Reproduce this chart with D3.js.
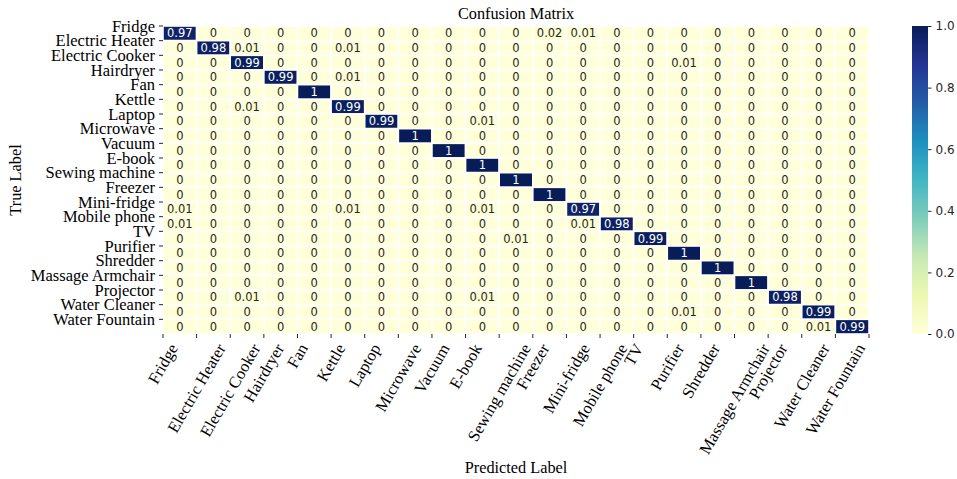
<!DOCTYPE html>
<html>
<head>
<meta charset="utf-8">
<script src="https://cdn.jsdelivr.net/npm/d3@7"></script>
<style>
  html, body { margin: 0; padding: 0; background: #fff; }
  svg { display: block; }
</style>
</head>
<body>
<svg id="chart" width="957" height="479"></svg>
<script>
// Appliance classes (rows = true label, columns = predicted label)
const classes = [
  "Fridge", "Electric Heater", "Electric Cooker", "Hairdryer", "Fan", "Kettle",
  "Laptop", "Microwave", "Vacuum", "E-book", "Sewing machine", "Freezer",
  "Mini-fridge", "Mobile phone", "TV", "Purifier", "Shredder",
  "Massage Armchair", "Projector", "Water Cleaner", "Water Fountain"
];

// Normalised confusion matrix, one row per true class
const matrix = [
  [0.97,0,0,0,0,0,0,0,0,0,0,0.02,0.01,0,0,0,0,0,0,0,0],
  [0,0.98,0.01,0,0,0.01,0,0,0,0,0,0,0,0,0,0,0,0,0,0,0],
  [0,0,0.99,0,0,0,0,0,0,0,0,0,0,0,0,0.01,0,0,0,0,0],
  [0,0,0,0.99,0,0.01,0,0,0,0,0,0,0,0,0,0,0,0,0,0,0],
  [0,0,0,0,1,0,0,0,0,0,0,0,0,0,0,0,0,0,0,0,0],
  [0,0,0.01,0,0,0.99,0,0,0,0,0,0,0,0,0,0,0,0,0,0,0],
  [0,0,0,0,0,0,0.99,0,0,0.01,0,0,0,0,0,0,0,0,0,0,0],
  [0,0,0,0,0,0,0,1,0,0,0,0,0,0,0,0,0,0,0,0,0],
  [0,0,0,0,0,0,0,0,1,0,0,0,0,0,0,0,0,0,0,0,0],
  [0,0,0,0,0,0,0,0,0,1,0,0,0,0,0,0,0,0,0,0,0],
  [0,0,0,0,0,0,0,0,0,0,1,0,0,0,0,0,0,0,0,0,0],
  [0,0,0,0,0,0,0,0,0,0,0,1,0,0,0,0,0,0,0,0,0],
  [0.01,0,0,0,0,0.01,0,0,0,0.01,0,0,0.97,0,0,0,0,0,0,0,0],
  [0.01,0,0,0,0,0,0,0,0,0,0,0,0.01,0.98,0,0,0,0,0,0,0],
  [0,0,0,0,0,0,0,0,0,0,0.01,0,0,0,0.99,0,0,0,0,0,0],
  [0,0,0,0,0,0,0,0,0,0,0,0,0,0,0,1,0,0,0,0,0],
  [0,0,0,0,0,0,0,0,0,0,0,0,0,0,0,0,1,0,0,0,0],
  [0,0,0,0,0,0,0,0,0,0,0,0,0,0,0,0,0,1,0,0,0],
  [0,0,0.01,0,0,0,0,0,0,0.01,0,0,0,0,0,0,0,0,0.98,0,0],
  [0,0,0,0,0,0,0,0,0,0,0,0,0,0,0,0.01,0,0,0,0.99,0],
  [0,0,0,0,0,0,0,0,0,0,0,0,0,0,0,0,0,0,0,0.01,0.99]
];

const colorbarTicks = [0, 0.2, 0.4, 0.6, 0.8, 1.0];

// YlGnBu colour stops
const ylgnbu = ["#ffffd9","#edf8b1","#c7e9b4","#7fcdbb","#41b6c4","#1d91c0","#225ea8","#253494","#081d58"];

const svg = d3.select("#chart");
const plot = { left: 163, top: 26, right: 869, bottom: 334 };
const serif = "'Liberation Serif', 'Times New Roman', serif";
const sans = "'DejaVu Sans', sans-serif";
const inkColor = "#262626";
const tickFont = 16.5;
const titleFont = 16.3;

const n = classes.length;
const x = d3.scaleLinear().domain([0, n]).range([plot.left, plot.right]);
const y = d3.scaleLinear().domain([0, n]).range([plot.top, plot.bottom]);
const color = d3.scaleLinear()
  .domain(d3.range(ylgnbu.length).map(i => i / (ylgnbu.length - 1)))
  .range(ylgnbu)
  .interpolate(d3.interpolateRgb)
  .clamp(true);

// Cells
const cells = [];
matrix.forEach((row, i) => row.forEach((v, j) => cells.push({ i, j, v })));

const g = svg.append("g");
g.selectAll("rect.cell")
  .data(cells)
  .join("rect")
  .attr("class", "cell")
  .attr("x", d => x(d.j))
  .attr("y", d => y(d.i))
  .attr("width", x(1) - x(0))
  .attr("height", y(1) - y(0))
  .attr("fill", d => color(d.v))
  .attr("stroke", "#fff")
  .attr("stroke-width", 1.6);

// Cell annotations
g.selectAll("text.val")
  .data(cells)
  .join("text")
  .attr("class", "val")
  .attr("x", d => x(d.j + 0.5))
  .attr("y", d => y(d.i + 0.5))
  .attr("text-anchor", "middle")
  .attr("dominant-baseline", "central")
  .attr("font-family", sans)
  .attr("font-size", 11.5)
  .attr("fill", d => d.v > 0.5 ? "#ffffff" : inkColor)
  .text(d => d3.format("~g")(d.v));

// Y axis: ticks and labels at row boundaries
const yAxis = svg.append("g");
yAxis.selectAll("line")
  .data(d3.range(n))
  .join("line")
  .attr("x1", plot.left - 4).attr("x2", plot.left)
  .attr("y1", d => y(d)).attr("y2", d => y(d))
  .attr("stroke", inkColor).attr("stroke-width", 1);
yAxis.selectAll("text")
  .data(classes)
  .join("text")
  .attr("x", plot.left - 8)
  .attr("y", (d, i) => y(i))
  .attr("text-anchor", "end")
  .attr("dominant-baseline", "central")
  .attr("font-family", serif)
  .attr("font-size", tickFont)
  .attr("fill", "#000")
  .text(d => d);

// X axis: ticks at column boundaries, rotated labels
const xAxis = svg.append("g");
xAxis.selectAll("line")
  .data(d3.range(n + 1))
  .join("line")
  .attr("x1", d => x(d)).attr("x2", d => x(d))
  .attr("y1", plot.bottom).attr("y2", plot.bottom + 4)
  .attr("stroke", inkColor).attr("stroke-width", 1);

const labelTop = plot.bottom + 7;
const cos60 = Math.cos(Math.PI / 3), sin60 = Math.sin(Math.PI / 3);
xAxis.selectAll("text")
  .data(classes)
  .join("text")
  .attr("text-anchor", "middle")
  .attr("dominant-baseline", "central")
  .attr("font-family", serif)
  .attr("font-size", tickFont)
  .attr("fill", "#000")
  .text(d => d)
  .each(function (d, i) {
    const w = this.getComputedTextLength();
    const h = tickFont * 1.0;
    const boxH = w * sin60 + h * cos60;
    d3.select(this).attr("transform",
      `translate(${x(i)},${labelTop + boxH / 2}) rotate(-60)`);
  });

// Titles
svg.append("text")
  .attr("x", (plot.left + plot.right) / 2).attr("y", 19)
  .attr("text-anchor", "middle")
  .attr("font-family", serif).attr("font-size", titleFont)
  .text("Confusion Matrix");
svg.append("text")
  .attr("x", (plot.left + plot.right) / 2).attr("y", 473)
  .attr("text-anchor", "middle")
  .attr("font-family", serif).attr("font-size", titleFont)
  .text("Predicted Label");
svg.append("text")
  .attr("transform", `translate(21,${(plot.top + plot.bottom) / 2}) rotate(-90)`)
  .attr("text-anchor", "middle")
  .attr("font-family", serif).attr("font-size", titleFont)
  .text("True Label");

// Colorbar
const cb = { x: 912, w: 16, top: plot.top, bottom: plot.bottom };
const defs = svg.append("defs");
const grad = defs.append("linearGradient")
  .attr("id", "cbGrad").attr("x1", 0).attr("y1", 1).attr("x2", 0).attr("y2", 0);
ylgnbu.forEach((c, i) => grad.append("stop")
  .attr("offset", i / (ylgnbu.length - 1)).attr("stop-color", c));
svg.append("rect")
  .attr("x", cb.x).attr("y", cb.top)
  .attr("width", cb.w).attr("height", cb.bottom - cb.top)
  .attr("fill", "url(#cbGrad)");

const cbScale = d3.scaleLinear().domain([0, 1]).range([cb.bottom, cb.top]);
const cbAxis = d3.axisRight(cbScale)
  .tickValues(colorbarTicks)
  .tickFormat(d3.format(".1f"))
  .tickSize(3.5)
  .tickPadding(4);
const cbG = svg.append("g")
  .attr("transform", `translate(${cb.x + cb.w},0)`)
  .call(cbAxis);
cbG.select(".domain").remove();
cbG.selectAll("line").attr("stroke", inkColor);
cbG.selectAll("text")
  .attr("font-family", sans).attr("font-size", 12).attr("fill", inkColor);
</script>
</body>
</html>
